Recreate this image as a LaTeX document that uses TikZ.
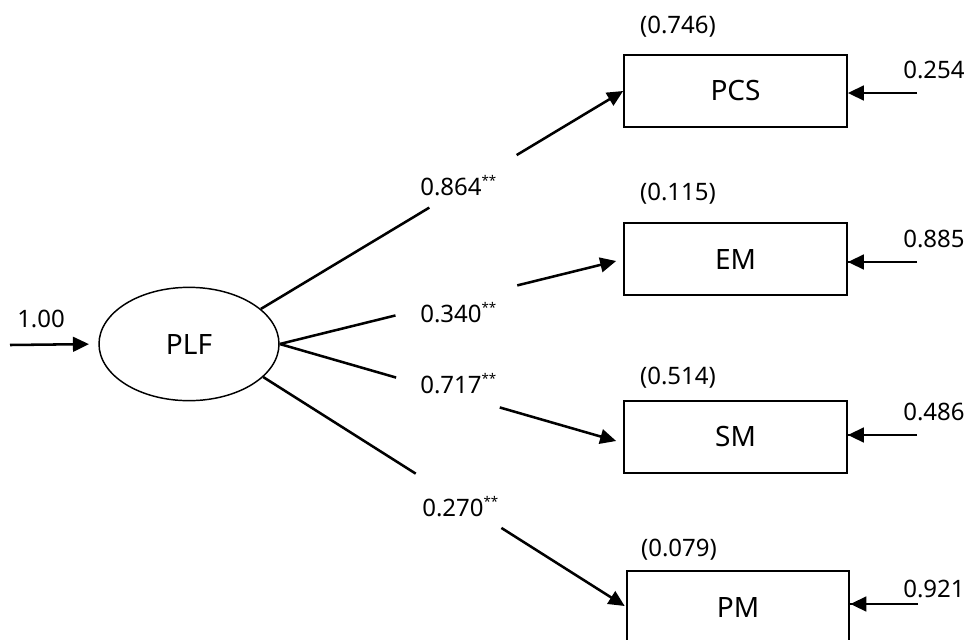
\documentclass[tikz,border=0pt]{standalone}
\usepackage{fontspec}
\setmainfont{Noto Sans}
\usetikzlibrary{arrows.meta,calc,shapes.geometric}
\tikzset{
  latent/.style  ={ellipse, draw, line width=1.1pt, minimum width=135pt,
                   minimum height=85pt, inner sep=0pt, font=\fontsize{21}{24}\selectfont},
  obs/.style     ={rectangle, draw, line width=1.5pt, minimum width=167pt,
                   minimum height=54pt, inner sep=0pt, font=\fontsize{21}{24}\selectfont},
  seg/.style     ={line width=1.9pt},
  flow/.style    ={-{Triangle[length=12pt,width=11pt]}, line width=1.9pt},
  errline/.style ={line width=0.8pt},
  lbl/.style     ={font=\fontsize{18}{20}\selectfont, inner sep=0pt},
}
\newcommand{\sig}{\raisebox{7pt}{\fontsize{10}{10}\selectfont **}}

\begin{document}
\begin{tikzpicture}[x=0.75pt, y=-0.75pt]
    \clip (0,0) rectangle (966,639);
    % nodes
    \node[latent] (plf) at (189,344) {PLF};
    \node[obs] (pcs) at (735.5,91) {PCS};
    \node[obs] (em) at (735.5,259) {EM};
    \node[obs] (sm) at (735.5,436.5) {SM};
    \node[obs] (pm) at (738,607) {PM};

    % r-square labels
    \node[lbl] (r1) at (678,27) {(0.746)};
    \node[lbl] (r2) at (678,194) {(0.115)};
    \node[lbl] (r3) at (678,378) {(0.514)};
    \node[lbl] (r4) at (679,550) {(0.079)};

    % disturbances
    \coordinate (in) at (10,345);
    \coordinate (d1) at (917,93);
    \coordinate (d2) at (917,262);
    \coordinate (d3) at (917,435);
    \coordinate (d4) at (918,604);
    \node[lbl, anchor=base west] (lin) at (17,327) {1.00};
    \node[lbl, anchor=base west] (l1) at (903,78) {0.254};
    \node[lbl, anchor=base west] (l2) at (903,247) {0.885};
    \node[lbl, anchor=base west] (l3) at (903,420) {0.486};
    \node[lbl, anchor=base west] (l4) at (903,597) {0.921};

    \draw[flow, shorten >=7pt] (in) -- (plf.west);
    \draw[flow] (d1) -- (d1 -| pcs.east);
    \draw[errline] (d2) -- (d2 -| em.east);
    \draw[flow] ($(d2 -| em.east)+(25,0)$) -- (d2 -| em.east);
    \draw[errline] (d3) -- (d3 -| sm.east);
    \draw[flow] ($(d3 -| sm.east)+(25,0)$) -- (d3 -| sm.east);
    \draw[errline] (d4) -- (d4 -| pm.east);
    \draw[flow] ($(d4 -| pm.east)+(20,0)$) -- (d4 -| pm.east);

    % loadings
    \coordinate (t1) at (pcs.west);
    \coordinate (t2) at ($(em.west)+(-7,2)$);
    \coordinate (t3) at ($(sm.west)+(-7,4.5)$);
    \coordinate (t4) at ($(pm.west)+(-1,-1)$);

    \draw[seg] (plf.26) -- ($(plf.26)!0.465!(t1)$);
    \draw[flow] ($(plf.26)!0.706!(t1)$) -- (t1);
    \draw[seg] (plf.east) -- ($(plf.east)!0.344!(t2)$);
    \draw[flow] ($(plf.east)!0.706!(t2)$) -- (t2);
    \draw[seg] (plf.east) -- ($(plf.east)!0.346!(t3)$);
    \draw[flow] ($(plf.east)!0.654!(t3)$) -- (t3);
    \draw[seg] (plf.-24) -- ($(plf.-24)!0.422!(t4)$);
    \draw[flow] ($(plf.-24)!0.659!(t4)$) -- (t4);

    \node[lbl, anchor=base west] (c1) at (420,195) {0.864\sig};
    \node[lbl, anchor=base west] (c2) at (420,322) {0.340\sig};
    \node[lbl, anchor=base west] (c3) at (420,393) {0.717\sig};
    \node[lbl, anchor=base west] (c4) at (422,516) {0.270\sig};
\end{tikzpicture}
\end{document}
